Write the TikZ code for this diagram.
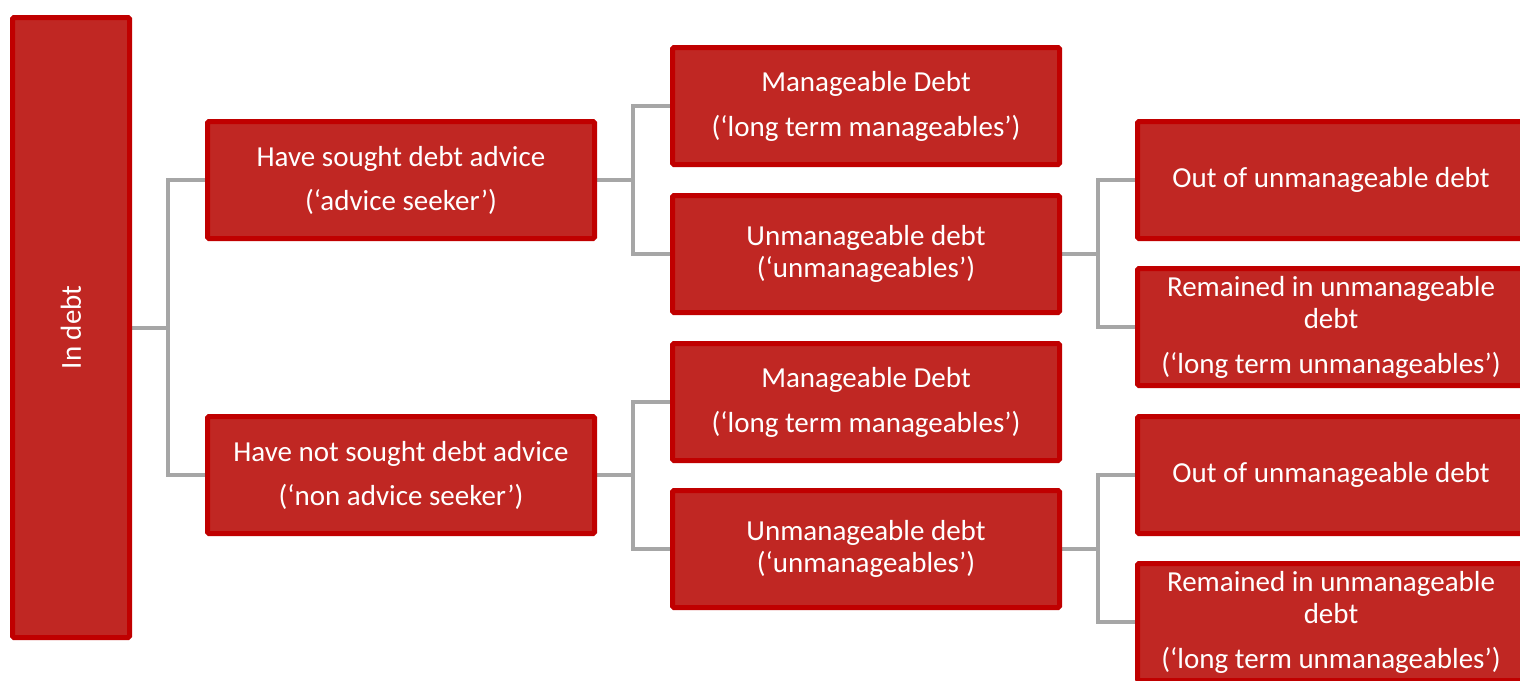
\documentclass[tikz,border=0pt]{standalone}
\usepackage{fontspec}
\setmainfont{Carlito}
\usetikzlibrary{backgrounds}
\definecolor{boxfill}{RGB}{192,39,35}
\definecolor{boxline}{RGB}{192,0,0}
\definecolor{conn}{RGB}{166,166,166}
\tikzset{
  box/.style={draw=boxline, fill=boxfill, line width=5pt, rounded corners=1.5pt,
    minimum width=387pt, minimum height=117pt, text=white, align=center,
    inner sep=0pt, font=\fontsize{29}{32}\selectfont},
  conline/.style={draw=conn, line width=4pt}
}
\begin{document}
\begin{tikzpicture}[x=1pt,y=-1pt]
\useasboundingbox (0,0) rectangle (1520,680);
\node[box, minimum width=117pt, minimum height=620pt] (indebt) at (71,327.5) {};
\node[rotate=90, text=white, font=\fontsize{29}{32}\selectfont] (indebtlabel) at (indebt.center) {In debt};
\node[box] (sought) at (401,180) {Have sought debt advice\\[12pt](‘advice seeker’)};
\node[box] (notsought) at (401,475) {Have not sought debt advice\\[12pt](‘non advice seeker’)};
\node[box] (man1) at (866,106) {Manageable Debt\\[13pt](‘long term manageables’)};
\node[box] (unm1) at (866,254) {Unmanageable debt\\(‘unmanageables’)};
\node[box] (man2) at (866,402) {Manageable Debt\\[13pt](‘long term manageables’)};
\node[box] (unm2) at (866,549) {Unmanageable debt\\(‘unmanageables’)};
\node[box] (out1) at (1331,180) {Out of unmanageable debt};
\node[box] (rem1) at (1331,327) {Remained in unmanageable\\debt\\[13pt](‘long term unmanageables’)};
\node[box] (out2) at (1331,475) {Out of unmanageable debt};
\node[box] (rem2) at (1331,622) {Remained in unmanageable\\debt\\[13pt](‘long term unmanageables’)};
\begin{scope}[on background layer]
\draw[conline] (indebt.east) -- ++(36,0) coordinate (j1);
\draw[conline] (sought.west) -| (j1) |- (notsought.west);
\draw[conline] (sought.east) -- ++(36,0) coordinate (j2);
\draw[conline] (man1.west) -| (j2) |- (unm1.west);
\draw[conline] (notsought.east) -- ++(36,0) coordinate (j3);
\draw[conline] (man2.west) -| (j3) |- (unm2.west);
\draw[conline] (unm1.east) -- ++(36,0) coordinate (j4);
\draw[conline] (out1.west) -| (j4) |- (rem1.west);
\draw[conline] (unm2.east) -- ++(36,0) coordinate (j5);
\draw[conline] (out2.west) -| (j5) |- (rem2.west);
\end{scope}
\end{tikzpicture}
\end{document}
